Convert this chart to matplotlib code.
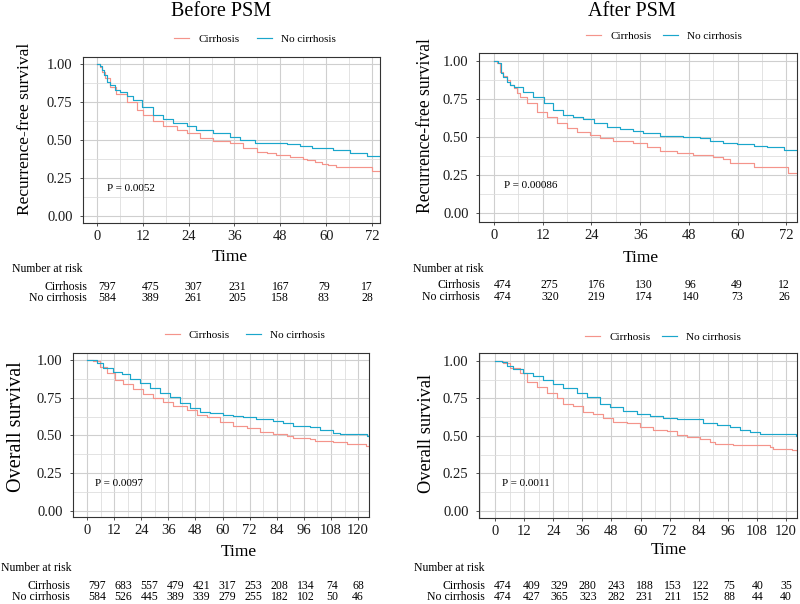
import matplotlib.pyplot as plt
from matplotlib.ticker import MultipleLocator

plt.rcParams['font.family'] = ['Liberation Serif', 'DejaVu Serif']

RED = '#F4948B'
BLUE = '#1AA6CB'
W, H = 800, 604

# recurrence-free survival, before PSM
rfs_pre_t_cir = [0, 0.8, 1.2, 2.1, 3.4, 5.1, 7.8, 10.4, 12.1, 14.7, 17.4, 20.9, 23.5, 27, 30.5,
                 34.8, 38.3, 41.8, 44.4, 47, 50.5, 54, 55, 57, 58.8, 60.5, 62.7, 71.9, 74]
rfs_pre_s_cir = [1, 0.98, 0.95, 0.905, 0.85, 0.80, 0.752, 0.697, 0.664, 0.627, 0.592, 0.566,
                 0.544, 0.511, 0.496, 0.482, 0.445, 0.423, 0.417, 0.401, 0.386, 0.373, 0.368,
                 0.355, 0.34, 0.335, 0.325, 0.296, 0.296]
rfs_pre_t_no = [0, 0.8, 1.2, 1.8, 2.5, 3.4, 4.7, 6.0, 7.8, 9.5, 11.7, 14.7, 17.4, 20, 23.5,
                26, 30.5, 34.8, 37.4, 41.4, 47, 49.7, 53.1, 56.2, 61.9, 66.2, 70.6, 74]
rfs_pre_s_no = [1, 0.99, 0.96, 0.93, 0.88, 0.86, 0.83, 0.815, 0.79, 0.765, 0.715, 0.664,
                0.636, 0.614, 0.592, 0.566, 0.544, 0.522, 0.5, 0.482, 0.478, 0.471, 0.46,
                0.45, 0.434, 0.417, 0.397, 0.397]

# recurrence-free survival, after PSM
rfs_post_t_cir = [0, 0.8, 1.5, 2.3, 3.1, 3.9, 4.8, 5.6, 6.4, 8.0, 10.5, 13, 15.4, 17.9, 20.4,
                  23.6, 26.1, 29.4, 34.3, 37.6, 40.9, 45, 49.1, 54, 56.5, 58.1, 64, 72.3, 74.6]
rfs_post_s_cir = [1, 0.985, 0.93, 0.901, 0.875, 0.842, 0.82, 0.792, 0.765, 0.721, 0.667,
                  0.629, 0.594, 0.557, 0.535, 0.513, 0.491, 0.476, 0.463, 0.436, 0.408, 0.397,
                  0.382, 0.371, 0.353, 0.327, 0.30, 0.265, 0.265]
rfs_post_t_no = [0, 1.1, 1.7, 2.3, 3.1, 3.9, 4.8, 7.2, 9.7, 12.2, 14.6, 17.1, 19.5, 22, 24.5,
                 27.8, 31, 34.3, 36.8, 40.9, 46.6, 50.7, 53.2, 56.5, 59.8, 63.9, 67.2, 71.3,
                 74.6]
rfs_post_s_no = [1, 0.985, 0.919, 0.897, 0.864, 0.842, 0.827, 0.798, 0.761, 0.721, 0.678,
                 0.645, 0.634, 0.616, 0.59, 0.568, 0.55, 0.542, 0.524, 0.507, 0.502, 0.491,
                 0.474, 0.463, 0.452, 0.443, 0.432, 0.414, 0.414]

# overall survival, before PSM
os_pre_t_cir = [0, 2.8, 5.8, 8.7, 12.4, 16.1, 20.5, 25, 29.4, 33.8, 38.2, 44.1, 48.5, 52.9,
                58.8, 64.7, 70.6, 76.5, 82.4, 88.3, 91.3, 98.7, 100.9, 109, 114.9, 120.8,
                123.5, 124.8]
os_pre_s_cir = [1, 0.996, 0.956, 0.912, 0.868, 0.841, 0.806, 0.775, 0.746, 0.724, 0.695, 0.669,
                0.636, 0.62, 0.592, 0.563, 0.547, 0.525, 0.51, 0.499, 0.486, 0.475, 0.464,
                0.459, 0.444, 0.441, 0.433, 0.433]
os_pre_t_no = [0, 4.3, 7.2, 11.7, 15.3, 19, 23.5, 27.9, 32.3, 36.7, 41.1, 45.6, 50, 54.4, 60.3,
               64.7, 69.2, 75, 82.4, 86.9, 91.3, 98.7, 103, 109, 112, 124, 124.8]
os_pre_s_no = [1, 0.978, 0.949, 0.923, 0.907, 0.872, 0.845, 0.812, 0.779, 0.753, 0.717, 0.68,
               0.658, 0.647, 0.636, 0.629, 0.62, 0.607, 0.598, 0.581, 0.563, 0.554, 0.536,
               0.519, 0.508, 0.497, 0.497]

# overall survival, after PSM
os_post_t_cir = [0, 3.4, 6.2, 10.3, 13.1, 17.2, 21.3, 25.4, 28.2, 32.3, 36.4, 40.5, 44.7, 48.8,
                 54.3, 59.8, 65.3, 70.8, 74.9, 79, 84.5, 88.7, 90.7, 98.3, 113.4, 114.8, 122.3,
                 124.5]
os_post_s_cir = [1, 0.989, 0.951, 0.918, 0.862, 0.824, 0.784, 0.751, 0.713, 0.7, 0.662, 0.647,
                 0.618, 0.591, 0.584, 0.562, 0.54, 0.533, 0.507, 0.491, 0.478, 0.462, 0.444,
                 0.44, 0.429, 0.413, 0.407, 0.402]
os_post_t_no = [0, 2.7, 4.8, 7.6, 11.7, 15.8, 19.9, 24.1, 28.2, 33.7, 37.8, 43.3, 47.4, 52.9,
                58.4, 63.9, 69.4, 74.9, 85.9, 91.4, 96.9, 101, 105.2, 109.3, 124, 124.5]
os_post_s_no = [1, 0.993, 0.967, 0.944, 0.922, 0.9, 0.873, 0.844, 0.818, 0.784, 0.758, 0.713,
                0.691, 0.669, 0.647, 0.633, 0.618, 0.611, 0.589, 0.573, 0.558, 0.54, 0.524,
                0.511, 0.502, 0.502]

# number at risk
rfs_times = [0, 12, 24, 36, 48, 60, 72]
rfs_pre_risk_cir = [797, 475, 307, 231, 167, 79, 17]
rfs_pre_risk_no = [584, 389, 261, 205, 158, 83, 28]
rfs_post_risk_cir = [474, 275, 176, 130, 96, 49, 12]
rfs_post_risk_no = [474, 320, 219, 174, 140, 73, 26]
os_times = [0, 12, 24, 36, 48, 60, 72, 84, 96, 108, 120]
os_pre_risk_cir = [797, 683, 557, 479, 421, 317, 253, 208, 134, 74, 68]
os_pre_risk_no = [584, 526, 445, 389, 339, 279, 255, 182, 102, 50, 46]
os_post_risk_cir = [474, 409, 329, 280, 243, 188, 153, 122, 75, 40, 35]
os_post_risk_no = [474, 427, 365, 323, 282, 231, 211, 152, 88, 44, 40]

groups = ['Cirrhosis', 'No cirrhosis']

fig = plt.figure(figsize=(W / 100, H / 100), dpi=100)


def panel(box, xlim, ylim, curves, ylabel, ylab_xy, ylab_size, pval, ptext_xy, time_xy,
          legend_xy, colspace, ticks, risk, risk_box, risk_rows, label_x, nar_x):
    l, t, r, b = box
    ax = fig.add_axes([l / W, 1 - b / H, (r - l) / W, (b - t) / H])
    for (tt, ss), col, name in zip(curves, [RED, BLUE], groups):
        ax.step(tt, ss, where='post', color=col, lw=0.85, label=name)
    ax.set_xlim(*xlim)
    ax.set_ylim(*ylim)
    ax.set_xticks(ticks)
    ax.xaxis.set_minor_locator(MultipleLocator(6))
    ax.set_yticks([0, 0.25, 0.5, 0.75, 1.0])
    ax.set_yticklabels(['0.00', '0.25', '0.50', '0.75', '1.00'])
    ax.yaxis.set_minor_locator(MultipleLocator(0.125))
    ax.grid(which='major', color='#cfcfcf', lw=0.8)
    ax.grid(which='minor', color='#dedede', lw=0.6)
    ax.set_axisbelow(True)
    ax.tick_params(which='major', length=2.5, width=0.6, color='#333333',
                   labelsize=10.5, labelcolor='#1a1a1a', pad=2.5)
    ax.tick_params(axis='y', pad=5)
    ax.tick_params(which='minor', length=0)
    for s in ax.spines.values():
        s.set_color('#333333')
        s.set_linewidth(0.8)
    ax.text(ptext_xy[0], ptext_xy[1], pval, fontsize=8, va='center', ha='left')
    fig.text(ylab_xy[0] / W, 1 - ylab_xy[1] / H, ylabel, rotation=90, fontsize=ylab_size,
             ha='center', va='center')
    fig.text(time_xy[0] / W, 1 - time_xy[1] / H, 'Time', fontsize=12.5,
             ha='center', va='center')
    ax.legend(loc='center', bbox_to_anchor=(legend_xy[0] / W, 1 - legend_xy[1] / H),
              bbox_transform=fig.transFigure, ncol=2, frameon=False, fontsize=8,
              handlelength=1.35, handletextpad=0.8, columnspacing=colspace,
              borderpad=0, borderaxespad=0)

    # number at risk table
    x0, x1, tmax = risk_box
    tab = fig.add_axes([x0 / W, 0, (x1 - x0) / W, 1])
    tab.set_xlim(0, tmax)
    tab.set_ylim(H, 0)
    tab.axis('off')
    y_nar, y_cir, y_no = risk_rows
    fig.text(nar_x / W, 1 - y_nar / H, 'Number at risk', fontsize=8.5, ha='left', va='center')
    for name, yy in zip(groups, [y_cir, y_no]):
        fig.text(label_x / W, 1 - yy / H, name, fontsize=8.5, ha='right', va='center')
    times, cir, no = risk
    for tm, a, c in zip(times, cir, no):
        tab.text(tm, y_cir, str(a), fontsize=8.5, ha='center', va='center')
        tab.text(tm, y_no, str(c), fontsize=8.5, ha='center', va='center')
    return ax


panel((83, 57, 380, 223), (-3.66, 74.1), (-0.046, 1.046),
      [(rfs_pre_t_cir, rfs_pre_s_cir), (rfs_pre_t_no, rfs_pre_s_no)],
      'Recurrence-free survival', (25, 129), 12.5, 'P = 0.0052', (2.5, 0.18), (230, 257),
      (255, 39), 1.6, rfs_times,
      (rfs_times, rfs_pre_risk_cir, rfs_pre_risk_no), (107, 367, 72), (269, 287, 298),
      87, 12)

panel((479, 53, 797, 222), (-3.7, 74.6), (-0.059, 1.053),
      [(rfs_post_t_cir, rfs_post_s_cir), (rfs_post_t_no, rfs_post_s_no)],
      'Recurrence-free survival', (425, 126), 12.7, 'P = 0.00086', (2.5, 0.18), (641, 258),
      (664, 36), 1.05, rfs_times,
      (rfs_times, rfs_post_risk_cir, rfs_post_risk_no), (503, 784, 72), (269, 285, 297),
      480, 413)

panel((73, 353, 369, 517), (-6.2, 124.8), (-0.04, 1.046),
      [(os_pre_t_cir, os_pre_s_cir), (os_pre_t_no, os_pre_s_no)],
      'Overall survival', (17, 427), 14.5, 'P = 0.0097', (3.5, 0.185), (239, 552),
      (245, 335), 1.5, os_times,
      (os_times, os_pre_risk_cir, os_pre_risk_no), (97, 358, 120), (568, 586, 597),
      70, 1)

panel((479, 353, 797, 518), (-6.6, 124.5), (-0.047, 1.053),
      [(os_post_t_cir, os_post_s_cir), (os_post_t_no, os_post_s_no)],
      'Overall survival', (427, 433), 13.2, 'P = 0.0011', (2.9, 0.185), (669, 550),
      (663, 337), 1.05, os_times,
      (os_times, os_post_risk_cir, os_post_risk_no), (503, 786, 120), (568, 586, 597),
      485, 414)

fig.text(221 / W, 1 - 12 / H, 'Before PSM', fontsize=14.5, ha='center', va='center')
fig.text(632 / W, 1 - 12 / H, 'After PSM', fontsize=14.5, ha='center', va='center')

fig.savefig('out.png', dpi=100)
